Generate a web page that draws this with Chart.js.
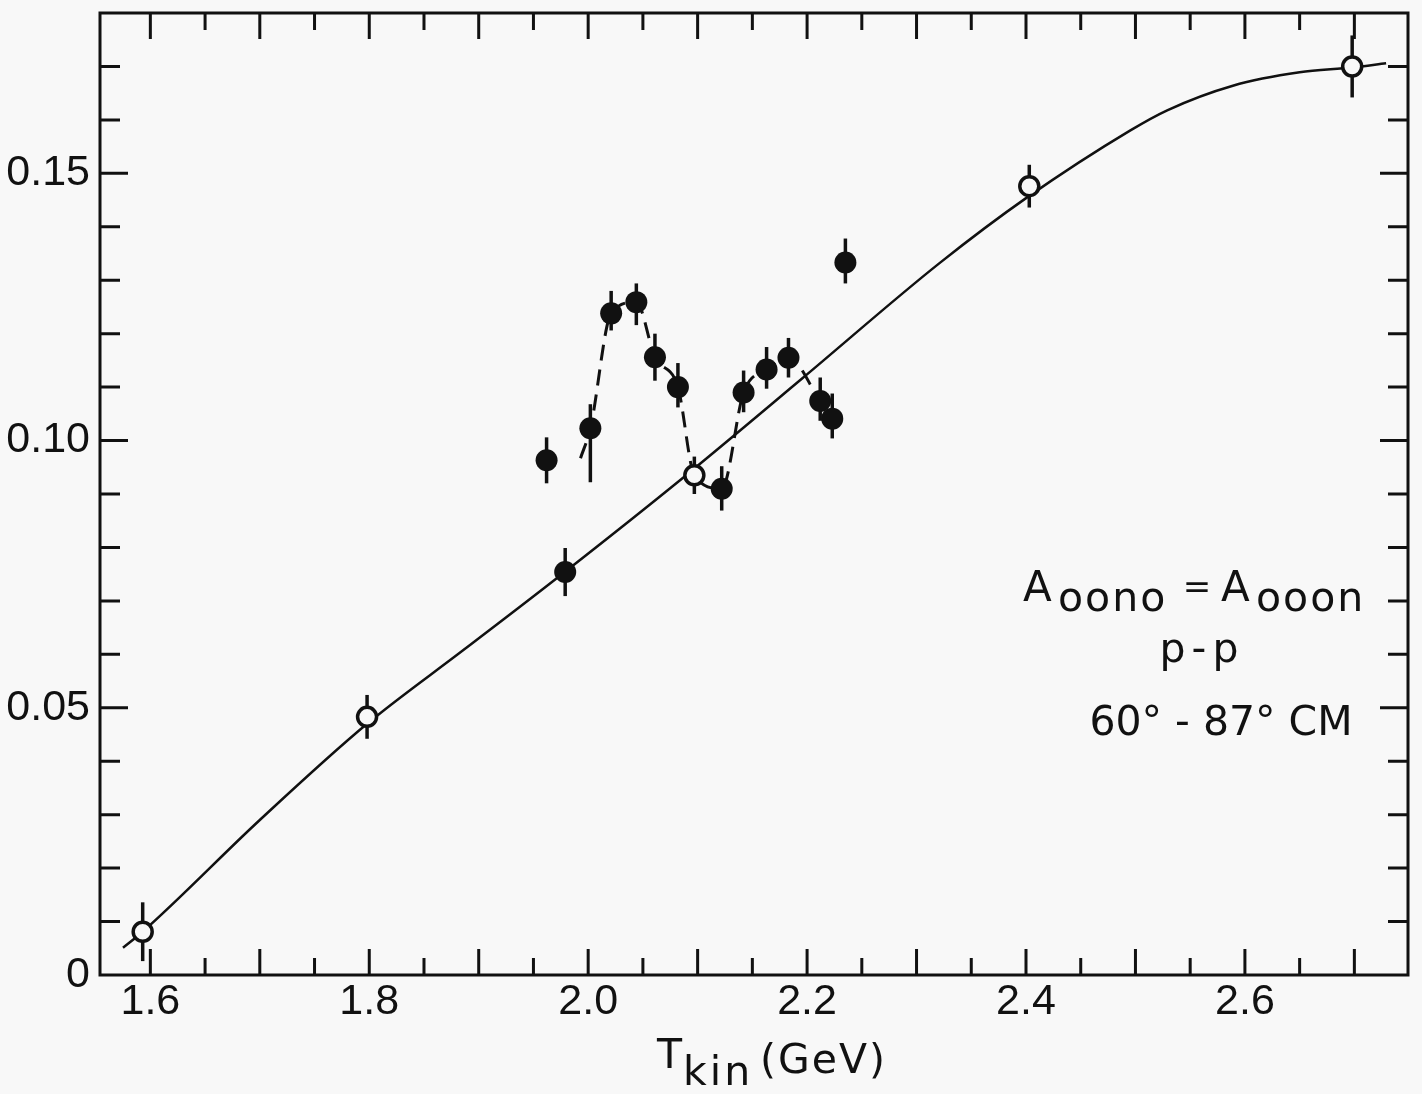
<!DOCTYPE html>
<html>
<head>
<meta charset="utf-8">
<script src="https://cdn.jsdelivr.net/npm/chart.js@4.4.1/dist/chart.umd.min.js"></script>
<style>
  html, body { margin: 0; padding: 0; background: #f8f8f8; }
</style>
</head>
<body>
<canvas id="myChart" width="1422" height="1094"></canvas>
<script>
// smooth fit through the open points (solid line)
var curveT = [1.575, 1.593, 1.700, 1.798, 1.886, 1.971, 2.087, 2.196, 2.321, 2.401, 2.495, 2.529, 2.589, 2.650, 2.698, 2.729];
var curveA = [0.0051, 0.0081, 0.0290, 0.0470, 0.0608, 0.0742, 0.0931, 0.1117, 0.1332, 0.1455, 0.1580, 0.1618, 0.1664, 0.1689, 0.1698, 0.1706];

// open circles
var openT = [1.593, 1.798, 2.097, 2.403, 2.698];
var openA = [0.0081, 0.0483, 0.0935, 0.1476, 0.1700];
var openErr = [0.0055, 0.0041, 0.0035, 0.0040, 0.0058];

// filled circles
var fullT = [1.962, 1.979, 2.002, 2.021, 2.044, 2.061, 2.082, 2.122, 2.142, 2.163, 2.183, 2.212, 2.223, 2.235];
var fullA = [0.0963, 0.0754, 0.1023, 0.1238, 0.1259, 0.1156, 0.1100, 0.0910, 0.1090, 0.1133, 0.1155, 0.1074, 0.1041, 0.1333];
var fullErrUp = [0.0043, 0.0045, 0.0045, 0.0042, 0.0035, 0.0044, 0.0045, 0.0042, 0.0041, 0.0042, 0.0037, 0.0044, 0.0047, 0.0045];
var fullErrDn = [0.0043, 0.0045, 0.0101, 0.0032, 0.0043, 0.0044, 0.0038, 0.0041, 0.0037, 0.0036, 0.0037, 0.0037, 0.0037, 0.0039];

// dashed guide through the structure
var dashT = [1.993, 2.002, 2.021, 2.044, 2.061, 2.082, 2.097, 2.122, 2.142, 2.163, 2.183, 2.212];
var dashA = [0.0967, 0.1023, 0.1238, 0.1259, 0.1156, 0.1100, 0.0935, 0.0910, 0.1090, 0.1133, 0.1155, 0.1074];

var xLabels = [1.6, 1.8, 2.0, 2.2, 2.4, 2.6];
var yLabels = [0, 0.05, 0.10, 0.15];

var ink = '#111';
var paper = '#f8f8f8';
var tickFont = "'Liberation Sans', sans-serif";
var textFont = "'DejaVu Sans', sans-serif";

function pts(xs, ys) {
  return xs.map(function (x, i) { return { x: x, y: ys[i] }; });
}

function noPad(s) {
  s.paddingTop = 0; s.paddingBottom = 0; s.paddingLeft = 0; s.paddingRight = 0;
}

// vertical error bars, drawn under the markers
var errorBars = {
  id: 'errorBars',
  beforeDatasetsDraw: function (chart) {
    var c = chart.ctx, xs = chart.scales.x, ys = chart.scales.y;
    c.save();
    c.strokeStyle = ink;
    c.lineWidth = 3.5;
    function bar(x, y, up, dn) {
      var px = xs.getPixelForValue(x);
      c.beginPath();
      c.moveTo(px, ys.getPixelForValue(y + up));
      c.lineTo(px, ys.getPixelForValue(y - dn));
      c.stroke();
    }
    openT.forEach(function (t, i) { bar(t, openA[i], openErr[i], openErr[i]); });
    fullT.forEach(function (t, i) { bar(t, fullA[i], fullErrUp[i], fullErrDn[i]); });
    c.restore();
  }
};

// box frame with inward ticks on all four sides
var frame = {
  id: 'frame',
  afterDraw: function (chart) {
    var c = chart.ctx, a = chart.chartArea, xs = chart.scales.x, ys = chart.scales.y;
    c.save();
    c.strokeStyle = ink;
    c.lineWidth = 3;
    c.strokeRect(a.left, a.top, a.right - a.left, a.bottom - a.top);
    c.beginPath();
    for (var i = 0; i < 30; i++) {
      var v = 1.55 + i * 0.05;
      if (v < xs.min || v > xs.max) continue;
      var px = xs.getPixelForValue(v);
      var len = Math.round(v * 100) % 10 === 0 ? 26 : 17;
      c.moveTo(px, a.bottom); c.lineTo(px, a.bottom - len);
      c.moveTo(px, a.top); c.lineTo(px, a.top + len);
    }
    for (var j = 1; j < 18; j++) {
      var py = ys.getPixelForValue(j * 0.01);
      var l2 = j % 5 === 0 ? 28 : 20;
      c.moveTo(a.left, py); c.lineTo(a.left + l2, py);
      c.moveTo(a.right, py); c.lineTo(a.right - l2, py);
    }
    c.stroke();
    c.restore();
  }
};

// axis title and the in-plot note, with subscripts
var labels = {
  id: 'labels',
  afterDraw: function (chart) {
    var c = chart.ctx;
    c.save();
    c.fillStyle = ink;
    c.textBaseline = 'alphabetic';
    function put(txt, x, y, size, align, spacing) {
      c.font = size + 'px ' + textFont;
      c.textAlign = align || 'left';
      if ('letterSpacing' in c) c.letterSpacing = (spacing || 0) + 'px';
      c.fillText(txt, x, y);
    }
    put('T', 657, 1068, 41);
    put('kin', 683, 1085, 41, 'left', 3);
    put('(GeV)', 760, 1073, 41, 'left', 2);

    put('A', 1023, 601, 42);
    put('oono', 1058, 611, 41, 'left', 2);
    put('=', 1197, 598, 34, 'center');
    put('A', 1221, 601, 42);
    put('ooon', 1256, 611, 41, 'left', 2);
    put('p-p', 1202, 662, 41, 'center', 6);
    put('60\u00b0 - 87\u00b0 CM', 1221, 735, 41, 'center');
    c.restore();
  }
};

var ctx = document.getElementById('myChart').getContext('2d');
var myChart = new Chart(ctx, {
  type: 'scatter',
  data: {
    datasets: [
      {
        label: 'open',
        data: pts(openT, openA),
        pointRadius: 9.5,
        pointBorderWidth: 3.5,
        pointBorderColor: ink,
        pointBackgroundColor: paper,
        showLine: false
      },
      {
        label: 'filled',
        data: pts(fullT, fullA),
        pointRadius: 11,
        pointBorderWidth: 0,
        pointBackgroundColor: ink,
        showLine: false
      },
      {
        label: 'dashed',
        data: pts(dashT, dashA),
        showLine: true,
        pointRadius: 0,
        borderColor: ink,
        borderWidth: 3,
        borderDash: [16, 9],
        cubicInterpolationMode: 'monotone'
      },
      {
        label: 'fit',
        data: pts(curveT, curveA),
        showLine: true,
        pointRadius: 0,
        borderColor: ink,
        borderWidth: 2.5,
        cubicInterpolationMode: 'monotone'
      }
    ]
  },
  options: {
    responsive: false,
    animation: false,
    layout: { padding: { left: 0, right: 14, top: 13, bottom: 0 } },
    plugins: {
      legend: { display: false },
      tooltip: { enabled: false }
    },
    scales: {
      x: {
        type: 'linear',
        min: 1.554,
        max: 2.749,
        grid: { display: false, drawTicks: false },
        border: { display: false },
        afterBuildTicks: function (s) { s.ticks = xLabels.map(function (v) { return { value: v }; }); },
        afterFit: function (s) { s.height = 119; noPad(s); },
        ticks: {
          padding: 1,
          color: ink,
          maxRotation: 0,
          autoSkip: false,
          font: { family: tickFont, size: 43 },
          callback: function (v) { return v.toFixed(1); }
        }
      },
      y: {
        min: 0,
        max: 0.18,
        grid: { display: false, drawTicks: false },
        border: { display: false },
        afterBuildTicks: function (s) { s.ticks = yLabels.map(function (v) { return { value: v }; }); },
        afterFit: function (s) { s.width = 100; noPad(s); },
        ticks: {
          padding: 10,
          color: ink,
          autoSkip: false,
          font: { family: tickFont, size: 43 },
          callback: function (v) { return v === 0 ? '0' : v.toFixed(2); }
        }
      }
    }
  },
  plugins: [errorBars, frame, labels]
});
</script>
</body>
</html>
